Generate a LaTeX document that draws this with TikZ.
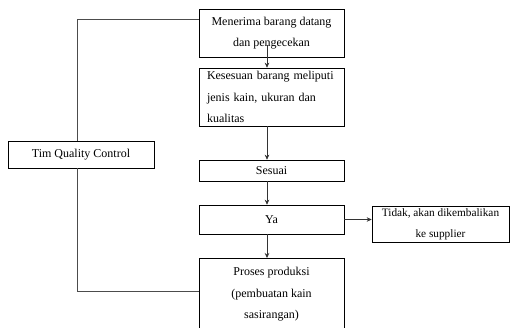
\documentclass[tikz,border=0pt]{standalone}
\usepackage{fontspec}
\setmainfont{Liberation Serif}
\usepackage{tikz}
\usetikzlibrary{arrows.meta, positioning}

\tikzset{
	proc/.style={draw, line width=0.6pt, minimum width=145pt, inner xsep=8pt, inner ysep=2pt, align=center,
		font=\fontsize{12}{21.5}\selectfont},
	flow/.style={-{Stealth[length=5pt, width=4.5pt]}, line width=0.6pt, black!80},
	link/.style={line width=0.6pt, black!70}
}

\begin{document}
\begin{tikzpicture}[x=1pt, y=-1pt]
				\clip (0,0) rectangle (511,327);
				
				\node[proc, minimum height=48pt] (terima) at (271.5, 33) {Menerima barang datang\\dan pengecekan};
				\node[proc, minimum height=58pt, text width=129pt, align=left] (sesuaicek) at (271.5, 97) {Kesesuan barang meliputi\\jenis kain, ukuran dan\\kualitas};
				\node[proc, minimum height=21pt] (sesuai) at (271.5, 170.5) {Sesuai};
				\node[proc, minimum height=29pt] (ya) at (271.5, 219.5) {Ya};
				\node[proc, minimum height=72pt, anchor=north] (produksi) at (271.5, 258) {Proses produksi\\(pembuatan kain\\sasirangan)};
				\node[proc, minimum width=137pt, minimum height=35pt, inner xsep=2pt, font=\fontsize{11.3}{21.5}\selectfont] (tidak) at (440.5, 224.5) {Tidak, akan dikembalikan\\ke supplier};
				\node[proc, minimum width=146pt, minimum height=27pt] (qc) at (81, 154.5) {Tim Quality Control};
				
				\draw[flow] ([xshift=-4.5pt, yshift=12pt]terima.south) -- ([xshift=-4.5pt]sesuaicek.north);
				\draw[flow] ([xshift=-4.5pt]sesuaicek.south) -- ([xshift=-4.5pt]sesuai.north);
				\draw[flow] ([xshift=-4.5pt]sesuai.south) -- ([xshift=-4.5pt]ya.north);
				\draw[flow] ([xshift=-4.5pt]ya.south) -- ([xshift=-4.5pt]produksi.north);
				\draw[flow] (ya.east) -- (ya.east -| tidak.west);
				
				\draw[link] ([xshift=-4pt]qc.north) |- ([yshift=14pt]terima.west);
				\draw[link] ([xshift=-4pt]qc.south) |- ([yshift=3pt]produksi.west);
			\end{tikzpicture}
\end{document}
